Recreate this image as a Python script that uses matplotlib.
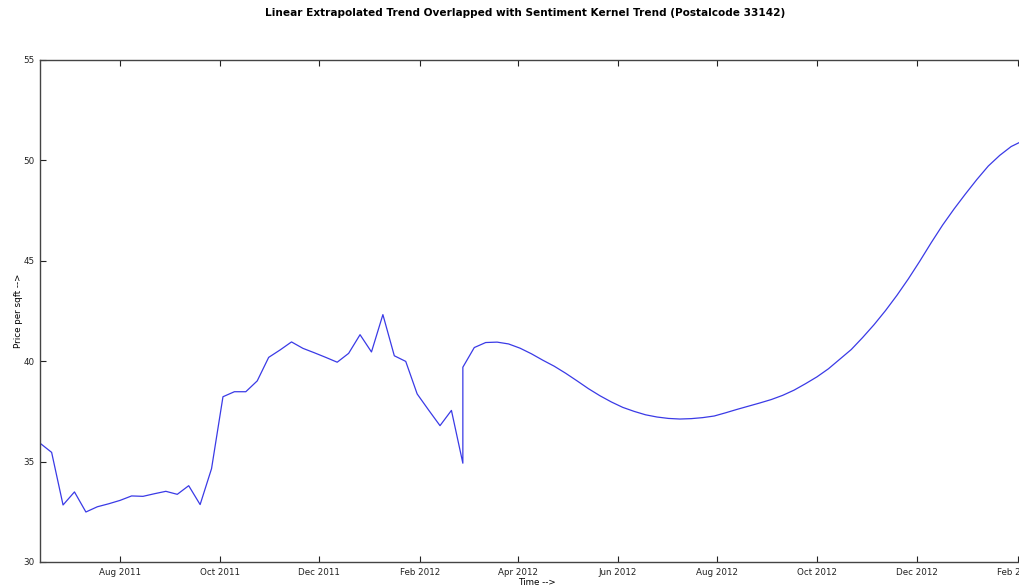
import matplotlib
matplotlib.use("Agg")
import matplotlib.pyplot as plt
import matplotlib.dates as mdates
import pandas as pd

# Observed weekly linear trend (Jun 2011 - Feb 2012)
obs_start = "2011-06-13"
obs_values = [35.91, 35.46, 32.84, 33.49, 32.49, 32.75, 32.90, 33.07, 33.29, 33.27,
              33.40, 33.52, 33.37, 33.80, 32.86, 34.65, 38.23, 38.48, 38.48, 39.02,
              40.19, 40.56, 40.96, 40.64, 40.42, 40.19, 39.95, 40.39, 41.32, 40.46,
              42.32, 40.27, 39.99, 38.37, 37.57, 36.79, 37.55, 34.92]

# Sentiment kernel trend, weekly (Feb 2012 - Feb 2013)
kernel_start = "2012-02-27"
kernel_values = [39.70, 40.68, 40.93, 40.95, 40.86, 40.65, 40.37, 40.05, 39.75, 39.40,
                 39.02, 38.63, 38.28, 37.97, 37.70, 37.50, 37.33, 37.22, 37.15, 37.12,
                 37.14, 37.19, 37.27, 37.43, 37.60, 37.76, 37.92, 38.09, 38.30, 38.56,
                 38.88, 39.22, 39.62, 40.10, 40.58, 41.18, 41.82, 42.52, 43.28, 44.10,
                 44.98, 45.90, 46.78, 47.58, 48.33, 49.05, 49.72, 50.25, 50.69, 50.97,
                 51.15]

y_ticks = [30, 35, 40, 45, 50, 55]

title = "Linear Extrapolated Trend Overlapped with Sentiment Kernel Trend (Postalcode 33142)"

plt.rcParams.update({
    "font.family": ["DejaVu Sans"],
    "font.size": 6.3,
    "xtick.direction": "in",
    "ytick.direction": "in",
    "xtick.top": True,
    "ytick.right": True,
    "xtick.major.size": 4,
    "ytick.major.size": 4,
    "xtick.major.pad": 4,
    "ytick.major.pad": 4,
})

obs_dates = pd.date_range(obs_start, periods=len(obs_values), freq="7D")
kdates = pd.date_range(kernel_start, periods=len(kernel_values), freq="7D")

dates = list(obs_dates) + list(kdates)
values = obs_values + kernel_values

fig = plt.figure(figsize=(10.2, 5.87), dpi=100)
W, H = 1020.0, 587.0
left_px, right_px, top_px, bottom_px = 40.2, 1034.0, 60.0, 562.0
ax = fig.add_axes([left_px / W, 1 - bottom_px / H, (right_px - left_px) / W, (bottom_px - top_px) / H])

ax.plot(dates, values, color="#3a3ae6", linewidth=0.9)

ax.set_xlim(obs_dates[0], kdates[-1])
ax.set_ylim(30, 55)
ax.set_yticks(y_ticks)
ax.xaxis.set_major_locator(mdates.MonthLocator(bymonth=[2, 4, 6, 8, 10, 12]))
ax.xaxis.set_major_formatter(mdates.DateFormatter("%b %Y"))
for s in ax.spines.values():
    s.set_linewidth(1.0)
    s.set_color("#444444")
ax.tick_params(colors="#222222", width=0.8)

ax.set_xlabel("Time -->", labelpad=1)
ax.set_ylabel("Price per sqft -->", labelpad=0)
fig.text(525 / W, 1 - 13 / H, title, ha="center", va="center", fontweight="bold", fontsize=7.6)

fig.savefig("out.png", dpi=100, facecolor="white")
